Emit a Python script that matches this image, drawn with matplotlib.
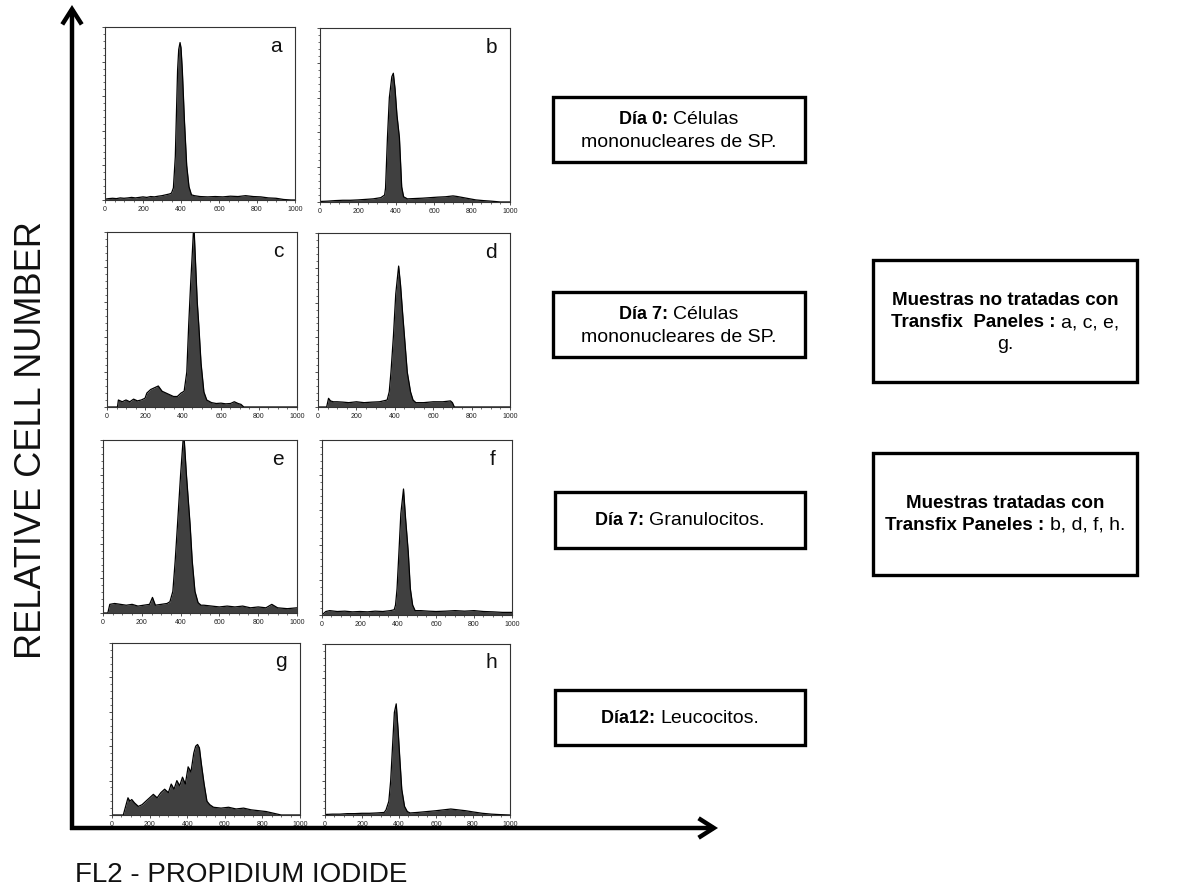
import numpy as np
import matplotlib
matplotlib.use('Agg')
import matplotlib.pyplot as plt
from matplotlib.patches import Rectangle, FancyArrowPatch

plt.rcParams['font.family'] = ['Liberation Sans', 'DejaVu Sans']

W, H = 1180, 892

# histogram values (channel, relative height of the panel)
a_x = [0, 20, 40, 60, 80, 100, 120, 140, 160, 180,
       200, 220, 240, 260, 280, 300, 320, 340, 350, 360,
       370, 375, 382, 388, 395, 400, 407, 418, 430, 442,
       455, 470, 500, 540, 580, 620, 660, 700, 740, 780,
       820, 860, 900, 940, 980, 1000]
a_y = [0.005, 0.008, 0.010, 0.008, 0.012, 0.010, 0.012, 0.015, 0.012, 0.015,
       0.018, 0.015, 0.020, 0.018, 0.022, 0.025, 0.030, 0.035, 0.040, 0.070,
       0.250, 0.460, 0.750, 0.870, 0.910, 0.880, 0.750, 0.460, 0.200, 0.077,
       0.030, 0.025, 0.020, 0.018, 0.020, 0.018, 0.022, 0.020, 0.025, 0.020,
       0.018, 0.012, 0.010, 0.003, 0.000, 0.000]

b_x = [0, 40, 80, 120, 160, 200, 240, 280, 320, 340,
       345, 355, 365, 378, 386, 395, 405, 418, 430, 440,
       460, 500, 540, 580, 620, 660, 700, 720, 740, 780,
       820, 860, 900, 920, 950, 1000]
b_y = [0.003, 0.005, 0.008, 0.010, 0.010, 0.012, 0.015, 0.018, 0.025, 0.040,
       0.080, 0.370, 0.600, 0.720, 0.740, 0.650, 0.500, 0.370, 0.087, 0.030,
       0.018, 0.020, 0.022, 0.025, 0.028, 0.030, 0.035, 0.032, 0.028, 0.020,
       0.012, 0.008, 0.005, 0.003, 0.000, 0.000]

c_x = [0, 55, 60, 80, 100, 120, 140, 160, 180, 200,
       210, 230, 250, 270, 290, 310, 330, 350, 370, 390,
       406, 420, 430, 440, 450, 457, 465, 475, 483, 495,
       510, 525, 550, 575, 600, 625, 650, 670, 690, 705,
       720, 800, 1000]
c_y = [0.000, 0.000, 0.040, 0.030, 0.040, 0.030, 0.045, 0.035, 0.040, 0.050,
       0.080, 0.100, 0.110, 0.120, 0.090, 0.080, 0.070, 0.060, 0.060, 0.080,
       0.090, 0.200, 0.470, 0.700, 0.900, 1.050, 0.850, 0.600, 0.470, 0.250,
       0.086, 0.040, 0.025, 0.020, 0.022, 0.018, 0.020, 0.030, 0.020, 0.015,
       0.000, 0.000, 0.000]

d_x = [0, 45, 55, 65, 80, 100, 130, 160, 200, 240,
       280, 320, 360, 371, 380, 393, 405, 420, 430, 440,
       450, 465, 482, 495, 510, 550, 600, 650, 690, 700,
       710, 800, 1000]
d_y = [0.000, 0.000, 0.050, 0.035, 0.030, 0.030, 0.028, 0.025, 0.030, 0.025,
       0.028, 0.030, 0.040, 0.087, 0.200, 0.410, 0.650, 0.810, 0.700, 0.550,
       0.410, 0.200, 0.087, 0.040, 0.025, 0.025, 0.030, 0.030, 0.035, 0.025,
       0.000, 0.000, 0.000]

e_x = [0, 25, 35, 60, 90, 120, 150, 180, 210, 240,
       255, 270, 300, 330, 345, 360, 372, 384, 400, 416,
       430, 449, 460, 474, 490, 505, 520, 560, 600, 640,
       680, 720, 760, 800, 840, 870, 900, 950, 1000]
e_y = [0.000, 0.000, 0.050, 0.055, 0.050, 0.045, 0.050, 0.040, 0.045, 0.050,
       0.090, 0.045, 0.050, 0.055, 0.065, 0.125, 0.300, 0.510, 0.800, 1.050,
       0.800, 0.510, 0.300, 0.125, 0.060, 0.045, 0.045, 0.040, 0.035, 0.040,
       0.035, 0.040, 0.030, 0.035, 0.030, 0.050, 0.030, 0.025, 0.030]

f_x = [0, 20, 40, 80, 120, 160, 200, 240, 280, 320,
       360, 380, 387, 395, 405, 415, 429, 440, 454, 465,
       477, 490, 520, 560, 600, 650, 700, 750, 800, 850,
       900, 950, 1000]
f_y = [0.000, 0.020, 0.025, 0.020, 0.022, 0.018, 0.020, 0.018, 0.022, 0.020,
       0.025, 0.030, 0.057, 0.150, 0.360, 0.580, 0.720, 0.550, 0.360, 0.150,
       0.057, 0.025, 0.025, 0.022, 0.020, 0.022, 0.025, 0.022, 0.025, 0.020,
       0.018, 0.015, 0.015]

g_x = [0, 60, 75, 85, 95, 105, 120, 140, 160, 180,
       200, 220, 240, 260, 280, 300, 315, 330, 345, 360,
       375, 390, 405, 420, 435, 445, 455, 465, 475, 490,
       505, 520, 540, 580, 620, 660, 700, 740, 780, 820,
       860, 900, 1000]
g_y = [0.000, 0.000, 0.060, 0.100, 0.080, 0.090, 0.070, 0.050, 0.060, 0.080,
       0.100, 0.120, 0.100, 0.130, 0.150, 0.130, 0.180, 0.150, 0.200, 0.170,
       0.220, 0.180, 0.280, 0.250, 0.360, 0.400, 0.410, 0.390, 0.300, 0.180,
       0.080, 0.060, 0.045, 0.040, 0.045, 0.035, 0.040, 0.030, 0.025, 0.020,
       0.010, 0.000, 0.000]

h_x = [0, 40, 80, 120, 160, 200, 240, 280, 320, 330,
       345, 355, 365, 375, 385, 395, 405, 415, 430, 445,
       460, 500, 550, 600, 640, 680, 720, 760, 800, 850,
       900, 950, 1000]
h_y = [0.003, 0.005, 0.005, 0.008, 0.008, 0.010, 0.010, 0.012, 0.015, 0.030,
       0.080, 0.200, 0.400, 0.600, 0.650, 0.500, 0.320, 0.150, 0.050, 0.020,
       0.012, 0.015, 0.020, 0.025, 0.030, 0.035, 0.030, 0.025, 0.018, 0.010,
       0.005, 0.002, 0.000]

panel_labels = ['a', 'b', 'c', 'd', 'e', 'f', 'g', 'h']
panel_data = [(a_x, a_y), (b_x, b_y), (c_x, c_y), (d_x, d_y),
              (e_x, e_y), (f_x, f_y), (g_x, g_y), (h_x, h_y)]
x_ticks = [0, 200, 400, 600, 800, 1000]

# panel frames in pixels: left, top, right, bottom
frames = [(105, 27, 295, 200), (320, 28, 510, 202),
          (107, 232, 297, 407), (318, 233, 510, 407),
          (103, 440, 297, 613), (322, 440, 512, 615),
          (112, 643, 300, 815), (325, 644, 510, 815)]


def fx(px):
    return px / W


def fy(py):
    return 1 - py / H


fig = plt.figure(figsize=(W / 100, H / 100), dpi=100)

for (l, t, r, b), lab, (xs, ys) in zip(frames, panel_labels, panel_data):
    ax = fig.add_axes([fx(l), fy(b), (r - l) / W, (b - t) / H])
    ax.fill_between(xs, ys, 0, color='#404040', lw=0)
    ax.plot(xs, ys, color='black', lw=0.9)
    ax.set_xlim(0, 1000)
    ax.set_ylim(0, 1.0)
    ax.set_xticks(x_ticks)
    ax.set_xticklabels([str(v) for v in x_ticks], fontsize=5, color='#222222')
    ax.set_xticks(np.arange(0, 1001, 50), minor=True)
    ax.set_yticks(np.arange(0, 1.01, 0.2))
    ax.set_yticks(np.arange(0, 1.01, 0.04), minor=True)
    ax.set_yticklabels([])
    ax.tick_params(axis='both', which='major', length=2.5, width=0.6, pad=1.5, color='#333333')
    ax.tick_params(axis='both', which='minor', length=1.3, width=0.5, color='#333333')
    for s in ax.spines.values():
        s.set_linewidth(0.8)
        s.set_color('#333333')
    ax.text(0.9, 0.89, lab, transform=ax.transAxes, fontsize=15,
            ha='center', va='center', color='#111111')

# big axis arrows
ox, oy = 72, 828
fig.patches.append(FancyArrowPatch((fx(ox), fy(oy + 2)), (fx(ox), fy(5)),
                                   transform=fig.transFigure, arrowstyle='->,head_length=11,head_width=7',
                                   lw=3.2, color='black', mutation_scale=1,
                                   shrinkA=0, shrinkB=0, joinstyle='miter', capstyle='butt'))
fig.patches.append(FancyArrowPatch((fx(ox - 2), fy(oy)), (fx(718), fy(oy)),
                                   transform=fig.transFigure, arrowstyle='->,head_length=11,head_width=7',
                                   lw=3.2, color='black', mutation_scale=1,
                                   shrinkA=0, shrinkB=0, joinstyle='miter', capstyle='butt'))

fig.text(fx(32), fy(440), 'RELATIVE CELL NUMBER', rotation=90, fontsize=26,
         ha='center', va='center', color='#111111')
fig.text(fx(75), fy(875), 'FL2 - PROPIDIUM IODIDE', fontsize=20,
         ha='left', va='center', color='#111111')

fig.canvas.draw()
renderer = fig.canvas.get_renderer()


def mixed_line(cx, base_y, parts):
    # parts share one baseline; widths measured to centre the whole line
    texts = []
    total = 0
    for s, w, size in parts:
        t = fig.text(0, fy(base_y), s, fontsize=size, fontweight=w, ha='left', va='baseline')
        wpx = t.get_window_extent(renderer).width
        texts.append((t, wpx))
        total += wpx
    x0 = cx - total / 2
    for t, wpx in texts:
        t.set_x(fx(x0))
        x0 += wpx


def box(l, t, r, b):
    fig.patches.append(Rectangle((fx(l), fy(b)), (r - l) / W, (b - t) / H,
                                 transform=fig.transFigure, fill=False,
                                 lw=2.4, edgecolor='black'))


BS, NS = 13, 14

box(553, 97, 805, 162)
mixed_line(679, 124, [('Día 0: ', 'bold', BS), ('Células', 'normal', NS)])
mixed_line(679, 147, [('mononucleares de SP.', 'normal', NS)])

box(553, 292, 805, 357)
mixed_line(679, 319, [('Día 7: ', 'bold', BS), ('Células', 'normal', NS)])
mixed_line(679, 342, [('mononucleares de SP.', 'normal', NS)])

box(555, 492, 805, 548)
mixed_line(680, 525, [('Día 7: ', 'bold', BS), ('Granulocitos.', 'normal', NS)])

box(555, 690, 805, 745)
mixed_line(680, 723, [('Día12: ', 'bold', BS), ('Leucocitos.', 'normal', NS)])

RB, RN = 13.5, 14

box(873, 260, 1137, 382)
mixed_line(1005, 305, [('Muestras no tratadas con', 'bold', RB)])
mixed_line(1005, 327, [('Transfix  Paneles : ', 'bold', RB), ('a, c, e,', 'normal', RN)])
mixed_line(1005, 349, [('g.', 'normal', RN)])

box(873, 453, 1137, 575)
mixed_line(1005, 508, [('Muestras tratadas con', 'bold', RB)])
mixed_line(1005, 530, [('Transfix Paneles : ', 'bold', RB), ('b, d, f, h.', 'normal', RN)])

fig.savefig('out.png', dpi=100)
